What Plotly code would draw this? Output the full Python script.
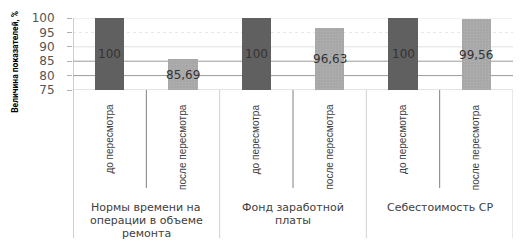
import plotly.graph_objects as go

# ---- data ----
groups = ["Нормы времени на<br>операции в объеме<br>ремонта",
          "Фонд заработной<br>платы",
          "Себестоимость СР"]
subcats = ["до пересмотра", "после пересмотра"]
before = [100, 100, 100]
after = [85.69, 96.63, 99.56]
yticks = [75, 80, 85, 90, 95, 100]
y_title = "Величина показателей, %"

ymin, ymax = yticks[0], yticks[-1]

def fmt(v):
    s = ("%g" % v)
    return s.replace(".", ",")

x_before = [2 * i for i in range(len(groups))]
x_after = [2 * i + 1 for i in range(len(groups))]

fig = go.Figure()
fig.add_trace(go.Bar(
    x=x_before, y=[v - ymin for v in before], base=ymin, width=0.4,
    marker=dict(color="#606060", line=dict(width=0)),
    hoverinfo="skip", showlegend=False))
fig.add_trace(go.Bar(
    x=x_after, y=[v - ymin for v in after], base=ymin, width=0.4,
    marker=dict(color="#a6a6a6", line=dict(width=0),
                pattern=dict(shape=".", fillmode="overlay", fgcolor="#bcbcbc",
                             size=3, solidity=0.3)),
    hoverinfo="skip", showlegend=False))

annotations = []
# value labels centred in the bars
for xs, vals in ((x_before, before), (x_after, after)):
    for x, v in zip(xs, vals):
        annotations.append(dict(
            x=x, y=(ymin + v) / 2, xref="x", yref="y", text=fmt(v),
            showarrow=False, font=dict(family="DejaVu Sans", size=12, color="#333333")))

# rotated sub-category labels
for i in range(len(groups)):
    for j, s in enumerate(subcats):
        annotations.append(dict(
            x=2 * i + j, y=-0.165, xref="x", yref="paper", text=s, textangle=-90,
            xanchor="center", yanchor="top", showarrow=False,
            font=dict(family="Liberation Sans", size=10, color="#404040")))

# group labels, one annotation per line (13 px line spacing)
plot_h = 245 - 18 - 155
for i, g in enumerate(groups):
    for k, line in enumerate(g.split("<br>")):
        py = 207 + 13 * k
        annotations.append(dict(
            x=2 * i + 0.5, y=(90 - py) / plot_h, xref="x", yref="paper", text=line,
            xanchor="center", yanchor="middle", showarrow=False,
            font=dict(family="DejaVu Sans", size=11, color="#404040")))

# y-axis title
annotations.append(dict(
    x=-0.132, y=0.39, xref="paper", yref="paper", text="<b>" + y_title + "</b>",
    textangle=-90, showarrow=False, xanchor="center", yanchor="middle",
    font=dict(family="Roboto", size=8.5, color="#000000")))

shapes = []
grid_style = {100: ("#e4e4e4", "solid"), 95: ("#e6e6e6", "dot"), 90: ("#e0e0e0", "solid"),
              85: ("#9a9a9a", "solid"), 80: ("#9a9a9a", "solid"), 75: ("#c8c8c8", "solid")}
for v in yticks:
    c, d = grid_style.get(v, ("#dddddd", "solid"))
    shapes.append(dict(type="line", xref="paper", yref="y", x0=0, x1=1, y0=v, y1=v,
                       line=dict(color=c, width=1, dash=d), layer="below"))

ncat = 2 * len(groups)
# group dividers (long) and inner dividers (short)
for k in range(ncat + 1):
    xpos = k - 0.5
    if k % 2 == 0:
        y_end, col = -2.06, "#a0a0a0" if k == 0 else "#d0d0d0"
    else:
        y_end, col = -1.36, "#808080"
    shapes.append(dict(type="line", xref="x", yref="paper", x0=xpos, x1=xpos,
                       y0=0, y1=y_end, line=dict(color=col, width=1)))
# left axis line through plot area
shapes.append(dict(type="line", xref="x", yref="paper", x0=-0.5, x1=-0.5, y0=0, y1=1,
                   line=dict(color="#a0a0a0", width=1)))

fig.update_layout(
    width=521, height=245,
    margin=dict(l=73, r=8, t=18, b=155),
    paper_bgcolor="white", plot_bgcolor="white",
    bargap=0,
    xaxis=dict(range=[-0.5, ncat - 0.5], showticklabels=False, showgrid=False,
               zeroline=False, showline=False, ticks=""),
    yaxis=dict(range=[ymin, ymax], tickvals=yticks, ticktext=[str(t) for t in yticks],
               showgrid=False, zeroline=False, showline=False,
               ticks="outside", ticklen=5, tickcolor="#b0b0b0",
               ticklabelstandoff=10,
               tickfont=dict(family="DejaVu Sans", size=12, color="#555555")),
    annotations=annotations, shapes=shapes,
)

fig.write_html("out.html")
